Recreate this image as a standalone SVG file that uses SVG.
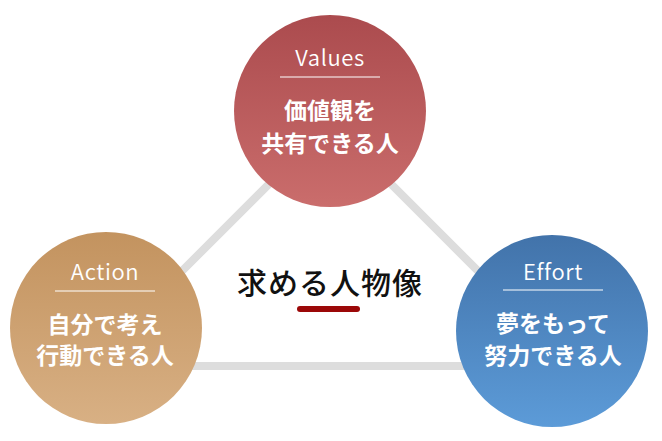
<svg xmlns="http://www.w3.org/2000/svg" width="662" height="441" viewBox="0 0 662 441">
<style>
.en{font-family:"Noto Sans CJK JP","Noto Sans",sans-serif;font-size:22px;fill:#fff;text-anchor:middle;font-weight:350;letter-spacing:0.6px}
.jp{font-family:"Noto Sans CJK JP",sans-serif;font-size:23px;fill:#fff;text-anchor:middle;font-weight:700}
.rule{stroke:#fff;stroke-width:1.2}
.edge{stroke:#dddddd;stroke-width:8;fill:none}
.title{font-family:"Noto Sans CJK JP",sans-serif;font-size:30px;fill:#111;text-anchor:middle;font-weight:500;letter-spacing:1px}
</style>
<defs>
<linearGradient id="gR" x1="0" y1="0" x2="0" y2="1"><stop offset="0" stop-color="#ab4b4e"/><stop offset="1" stop-color="#ca6d6c"/></linearGradient>
<linearGradient id="gT" x1="0" y1="0" x2="0" y2="1"><stop offset="0" stop-color="#c3935f"/><stop offset="1" stop-color="#d8b084"/></linearGradient>
<linearGradient id="gB" x1="0" y1="0" x2="0" y2="1"><stop offset="0" stop-color="#4273aa"/><stop offset="1" stop-color="#5c9bd8"/></linearGradient>
</defs>
<rect width="662" height="441" fill="#fff"/>
<g id="connectors">
<polygon class="edge" points="330,123 87,366 573,366"/>
</g>
<g id="center">
<text class="title" x="330" y="294">求める人物像</text>
<rect x="297" y="306" width="63" height="6" rx="3" fill="#9b0808"/>
</g>
<g id="values">
<circle cx="330" cy="111" r="96" fill="url(#gR)"/>
<text class="en" x="330" y="66">Values</text>
<line class="rule" x1="280" y1="77" x2="380" y2="77"/>
<text class="jp" x="330" y="119">価値観を</text>
<text class="jp" x="330" y="152">共有できる人</text>
</g>
<g id="action">
<circle cx="106" cy="328" r="96" fill="url(#gT)"/>
<text class="en" x="105" y="280">Action</text>
<line class="rule" x1="55" y1="291" x2="155" y2="291"/>
<text class="jp" x="105" y="333">自分で考え</text>
<text class="jp" x="105" y="364">行動できる人</text>
</g>
<g id="effort">
<circle cx="552" cy="331" r="96" fill="url(#gB)"/>
<text class="en" x="553" y="280">Effort</text>
<line class="rule" x1="503" y1="290" x2="603" y2="290"/>
<text class="jp" x="553" y="332">夢をもって</text>
<text class="jp" x="553" y="364">努力できる人</text>
</g>
</svg>
